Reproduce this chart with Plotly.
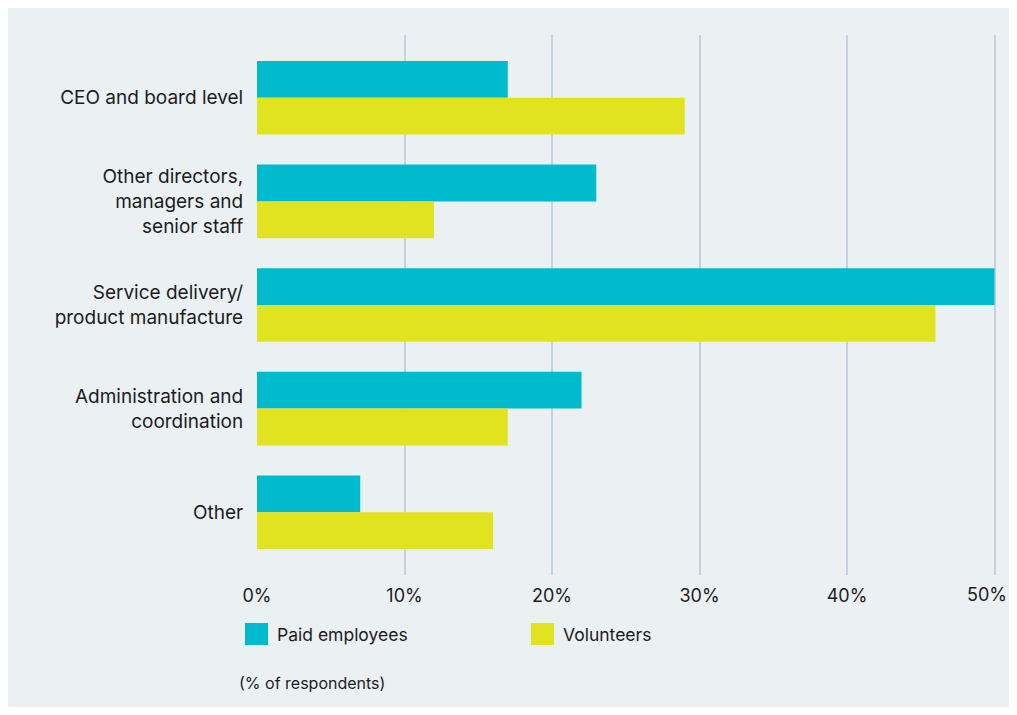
import plotly.graph_objects as go

categories = ["CEO and board level",
              "Other directors,<br>managers and<br>senior staff",
              "Service delivery/<br>product manufacture",
              "Administration and<br>coordination",
              "Other"]
paid = [17, 23, 50, 22, 7]
volunteers = [29, 12, 46, 17, 16]
series_names = ["Paid employees", "Volunteers"]
tick_vals = [0, 10, 20, 30, 40, 50]
tick_text = ["0%", "10%", "20%", "30%", "40%", "50%"]

TEAL = "#00bbce"
YELLOW = "#e2e320"
BG = "#ebf0f3"
GRID = "#c3d2dc"
TXT = "#1c1c1c"
FONT = "Inter"

OFF = 8  # page body margin
W, H = 1001, 699
XMAX = 50.1
L, T, B = 249, 27, 132
PW = 737.5 * XMAX / 50
R = W - L - PW
PH = H - T - B

def px(x):  # screen x -> paper
    return (x - OFF - L) / PW

def py(y):  # screen y -> paper
    return (H - B - (y - OFF)) / PH

fig = go.Figure()
fig.add_trace(go.Bar(y=categories, x=paid, orientation="h", name=series_names[0],
                     marker=dict(color=TEAL, line=dict(width=0)), showlegend=False))
fig.add_trace(go.Bar(y=categories, x=volunteers, orientation="h", name=series_names[1],
                     marker=dict(color=YELLOW, line=dict(width=0)), showlegend=False))

shapes = []
annotations = []
legend_items = [(series_names[0], TEAL, 245), (series_names[1], YELLOW, 531)]
for name, col, x0 in legend_items:
    shapes.append(dict(type="rect", xref="paper", yref="paper", x0=px(x0), x1=px(x0 + 23),
                       y0=py(645), y1=py(623), fillcolor=col, line=dict(width=0)))
    annotations.append(dict(xref="paper", yref="paper", x=px(x0 + 30), y=py(634),
                            text=name, showarrow=False, xanchor="left", yanchor="middle",
                            font=dict(size=17.5, color=TXT, family=FONT)))
annotations.append(dict(xref="paper", yref="paper", x=px(237), y=py(683),
                        text="(% of respondents)", showarrow=False, xanchor="left",
                        yanchor="middle", font=dict(size=16, color=TXT, family=FONT)))
# last tick label kept inside the page (would otherwise be hidden past the edge)
annotations.append(dict(xref="x", yref="paper", x=tick_vals[-1], y=py(594),
                        text=tick_text[-1], showarrow=False, xanchor="right",
                        yanchor="middle", xshift=14,
                        font=dict(size=18, color=TXT, family=FONT)))

fig.update_layout(
    width=W, height=H,
    margin=dict(l=L, r=R, t=T, b=B, pad=0),
    paper_bgcolor=BG, plot_bgcolor=BG,
    barmode="group", bargap=0.29, bargroupgap=0,
    font=dict(family=FONT, color=TXT, size=19),
    shapes=shapes, annotations=annotations,
    xaxis=dict(range=[0, XMAX], tickvals=tick_vals, ticktext=tick_text[:-1] + [""],
               showgrid=True, gridcolor=GRID, gridwidth=1.5, zeroline=False,
               showline=False, ticks="outside", ticklen=4, tickcolor="rgba(0,0,0,0)",
               tickfont=dict(size=18, color=TXT, family=FONT)),
    yaxis=dict(range=[4.606, -0.606], showgrid=False, zeroline=False, showline=False,
               ticks="outside", ticklen=9, tickcolor="rgba(0,0,0,0)",
               tickfont=dict(size=19, color=TXT, family=FONT)),
)
fig.write_html("out.html")
